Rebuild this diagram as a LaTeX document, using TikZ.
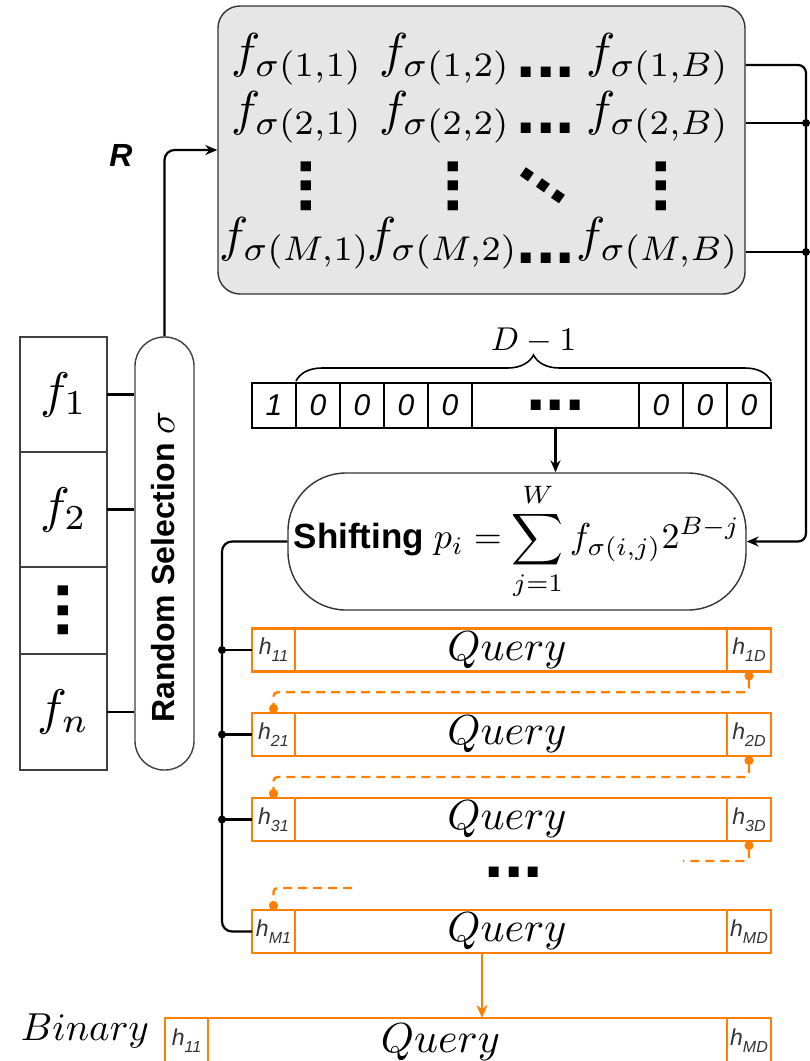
\documentclass[tikz,border=0pt]{standalone}
\usepackage{fontspec}
\setsansfont{Liberation Sans}
\usetikzlibrary{arrows.meta,decorations.pathreplacing,calc}

\definecolor{qorange}{HTML}{FF8000}
\definecolor{boxgray}{HTML}{E6E6E6}
\definecolor{labelgray}{HTML}{333333}

% math set at 10pt and enlarged
\newcommand{\mth}[2]{\scalebox{#1}{\fontsize{10}{12}\selectfont$#2$}}
% square "..." dots set in a bold sans face
\newcommand{\sqdots}{{\sffamily\bfseries\fontsize{70}{70}\selectfont ...}}
% small italic hash labels h_{ij}
\newcommand{\hlab}[1]{{\sffamily\itshape\color{labelgray}\fontsize{23}{23}\selectfont h\raisebox{-0.3em}{\fontsize{16}{16}\selectfont #1}}}
\newcommand{\qtext}{\mth{4.2}{Query}}
\newcommand{\bitv}[1]{{\sffamily\itshape\fontsize{30}{30}\selectfont #1}}

\begin{document}
\begin{tikzpicture}[x=1pt,y=-1pt,
  wire/.style={draw=black, line width=2.2pt},
  arr/.style={wire, -{Stealth[length=12pt,width=10pt]}},
  junction/.style={circle, fill=black, inner sep=0pt, minimum size=8pt},
  fm/.style={inner sep=0pt},
  dotsn/.style={inner sep=0pt},
  fcell/.style={draw=black!75, line width=1.4pt, minimum width=87pt, inner sep=0pt, outer sep=0pt},
  bcell/.style={draw=black, line width=1.8pt, minimum height=45pt, minimum width=44pt, inner sep=0pt, outer sep=0pt, anchor=west},
  qcell/.style={draw=qorange, line width=2.6pt, minimum height=43pt, inner sep=0pt, outer sep=0pt, anchor=west},
  dconn/.style={draw=qorange, line width=2.4pt, dash pattern=on 9pt off 6pt, rounded corners=4pt},
  oarr/.style={draw=qorange, line width=2.4pt, -{Stealth[length=13pt,width=11pt]}}
]
\useasboundingbox (0,0) rectangle (810,1061);

% ---- permuted feature matrix ----
\node[draw=black!80, fill=boxgray, rounded corners=22pt, line width=1.4pt,
      minimum width=527pt, minimum height=288pt, inner sep=0pt] (mat) at (481.5,150) {};
\node[fm] (m11) at (297,59) {\mth{4.9}{f_{\sigma(1,1)}}};
\node[fm] (m12) at (445,59) {\mth{4.9}{f_{\sigma(1,2)}}};
\node[dotsn] (m1d) at (546,72) {\sqdots};
\node[fm] (m1B) at (658,59) {\mth{4.9}{f_{\sigma(1,B)}}};
\node[fm] (m21) at (297,117) {\mth{4.9}{f_{\sigma(2,1)}}};
\node[fm] (m22) at (445,117) {\mth{4.9}{f_{\sigma(2,2)}}};
\node[dotsn] (m2d) at (546,128) {\sqdots};
\node[fm] (m2B) at (658,117) {\mth{4.9}{f_{\sigma(2,B)}}};
\node[dotsn, rotate=90] (v1) at (306,186) {\sqdots};
\node[dotsn, rotate=90] (v2) at (453,186) {\sqdots};
\node[dotsn, rotate=-35] (vd) at (543,186) {\sqdots};
\node[dotsn, rotate=90] (vB) at (661,186) {\sqdots};
\node[fm] (mM1) at (295,243) {\mth{4.9}{f_{\sigma(M,1)}}};
\node[fm] (mM2) at (443,243) {\mth{4.9}{f_{\sigma(M,2)}}};
\node[dotsn] (mMd) at (546,258) {\sqdots};
\node[fm] (mMB) at (658,243) {\mth{4.9}{f_{\sigma(M,B)}}};

% ---- feature column and random selection ----
\node[fcell, minimum height=115pt] (f1) at (63.5,394.5) {\mth{5}{f_1}};
\node[fcell, minimum height=115pt] (f2) at (63.5,509.5) {\mth{5}{f_2}};
\node[fcell, minimum height=87pt] (fd) at (63.5,610.5) {};
\node[dotsn, rotate=90] (fdd) at (63.5,610.5) {\sqdots};
\node[fcell, minimum height=116pt] (fn) at (63.5,712) {\mth{5}{f_n}};
\node[draw=black!75, line width=1.4pt, rounded corners=29pt, minimum width=59pt,
      minimum height=433pt, inner sep=0pt] (pill) at (164.5,553.5) {};
\node[rotate=90, inner sep=0pt] (rsel) at (163,567)
      {\sffamily\bfseries\fontsize{32}{32}\selectfont Random Selection \mth{3.8}{\sigma}};
\draw[wire] (f1.east) -- (f1.east -| pill.west);
\draw[wire] (f2.east) -- (f2.east -| pill.west);
\draw[wire] (fn.east) -- (fn.east -| pill.west);
\draw[arr, rounded corners=10pt] (pill.north) |- (mat.west);
\node[inner sep=0pt] (rlab) at (121,155) {\sffamily\bfseries\itshape\fontsize{32}{32}\selectfont R};

% ---- right-hand bus into the shifting block ----
\node[draw=black!80, line width=1.4pt, rounded corners=58pt, minimum width=458pt,
      minimum height=137pt, inner sep=0pt] (shift) at (517,541.5)
      {\sffamily\bfseries\fontsize{35}{35}\selectfont Shifting
       \mth{3.6}{\displaystyle p_i=\sum_{j=1}^{W} f_{\sigma(i,j)}2^{B-j}}};
\coordinate (busTop) at (806,65);
\coordinate (tap2) at (806,123);
\coordinate (tapM) at (806,252);
\draw[arr, rounded corners=8pt] (mat.east |- busTop) -- (busTop) -- (busTop |- shift.east) -- (shift.east);
\draw[wire] (mat.east |- tap2) -- (tap2);
\draw[wire] (mat.east |- tapM) -- (tapM);
\node[junction] at (tap2) {};
\node[junction] at (tapM) {};

% ---- shift mask 1 0 0 ... 0 ----
\node[bcell] (b1) at (252,405.5) {\bitv{1}};
\node[bcell] (b2) at (b1.east) {\bitv{0}};
\node[bcell] (b3) at (b2.east) {\bitv{0}};
\node[bcell] (b4) at (b3.east) {\bitv{0}};
\node[bcell] (b5) at (b4.east) {\bitv{0}};
\node[bcell, minimum width=167pt] (bd) at (b5.east) {\sqdots};
\node[bcell] (b7) at (bd.east) {\bitv{0}};
\node[bcell] (b8) at (b7.east) {\bitv{0}};
\node[bcell] (b9) at (b8.east) {\bitv{0}};
\draw[line width=1.6pt, decorate, decoration={brace, amplitude=26pt}]
  ([yshift=2pt]b2.north west) -- ([yshift=2pt]b9.north east)
  node[midway, above=27pt, inner sep=0pt] (dlab) {\mth{3.3}{D-1}};
\draw[arr] (bd.south) -- (bd.south |- shift.north);

% ---- query rows ----
\foreach \r/\y/\s in {1/650/1, 2/734.5/2, 3/819.5/3, M/931.5/M}{
  \node[qcell, minimum width=43pt] (hL\r) at (252,\y) {\hlab{\s1}};
  \node[qcell, minimum width=432pt] (q\r) at (hL\r.east) {};
  \node[inner sep=0pt] (qt\r) at ([xshift=-4pt]q\r.center) {\qtext};
  \node[qcell, minimum width=44pt] (hR\r) at (q\r.east) {\hlab{\s D}};
}
\node[qcell, minimum width=43pt, minimum height=45pt] (bL) at (165,1040.5) {\hlab{11}};
\node[qcell, minimum width=519pt, minimum height=45pt] (bQ) at (bL.east) {};
\node[inner sep=0pt] (bQt) at ([xshift=-27pt,yshift=-2pt]bQ.center) {\qtext};
\node[qcell, minimum width=44pt, minimum height=45pt] (bR) at (bQ.east) {\hlab{MD}};
\node[inner sep=0pt] (binlab) at (85,1031) {\mth{3.9}{Binary}};

% left bus from the shifting block to every row
\coordinate (busM) at ($(hLM.west)+(-30,0)$);
\draw[wire, rounded corners=10pt] (shift.west) -| (busM) -- (hLM.west);
\foreach \r in {1,2,3}{
  \coordinate (j\r) at ($(hL\r.west)+(-30,0)$);
  \draw[wire] (j\r) -- (hL\r.west);
  \node[junction] at (j\r) {};
}

% carry links between consecutive rows
\draw[dconn, {Circle[length=9pt,width=9pt]}-{Circle[length=9pt,width=9pt]}]
  (hR1.south) |- ($(hR1.south)!.5!(hL2.north)$) -| (hL2.north);
\draw[dconn, {Circle[length=9pt,width=9pt]}-{Circle[length=9pt,width=9pt]}]
  (hR2.south) |- ($(hR2.south)!.5!(hL3.north)$) -| (hL3.north);
\coordinate (cut3) at (683,861);
\coordinate (cutM) at (352,888);
\draw[dconn, {Circle[length=9pt,width=9pt]}-] (hR3.south) |- (cut3);
\draw[dconn, -{Circle[length=9pt,width=9pt]}] (cutM) -| (hLM.north);
\node[dotsn] (rowdots) at (514,872) {\sqdots};

\draw[oarr] ([xshift=-29pt]qM.south) -- ([xshift=-29pt]qM.south |- bQ.north);
\end{tikzpicture}
\end{document}
